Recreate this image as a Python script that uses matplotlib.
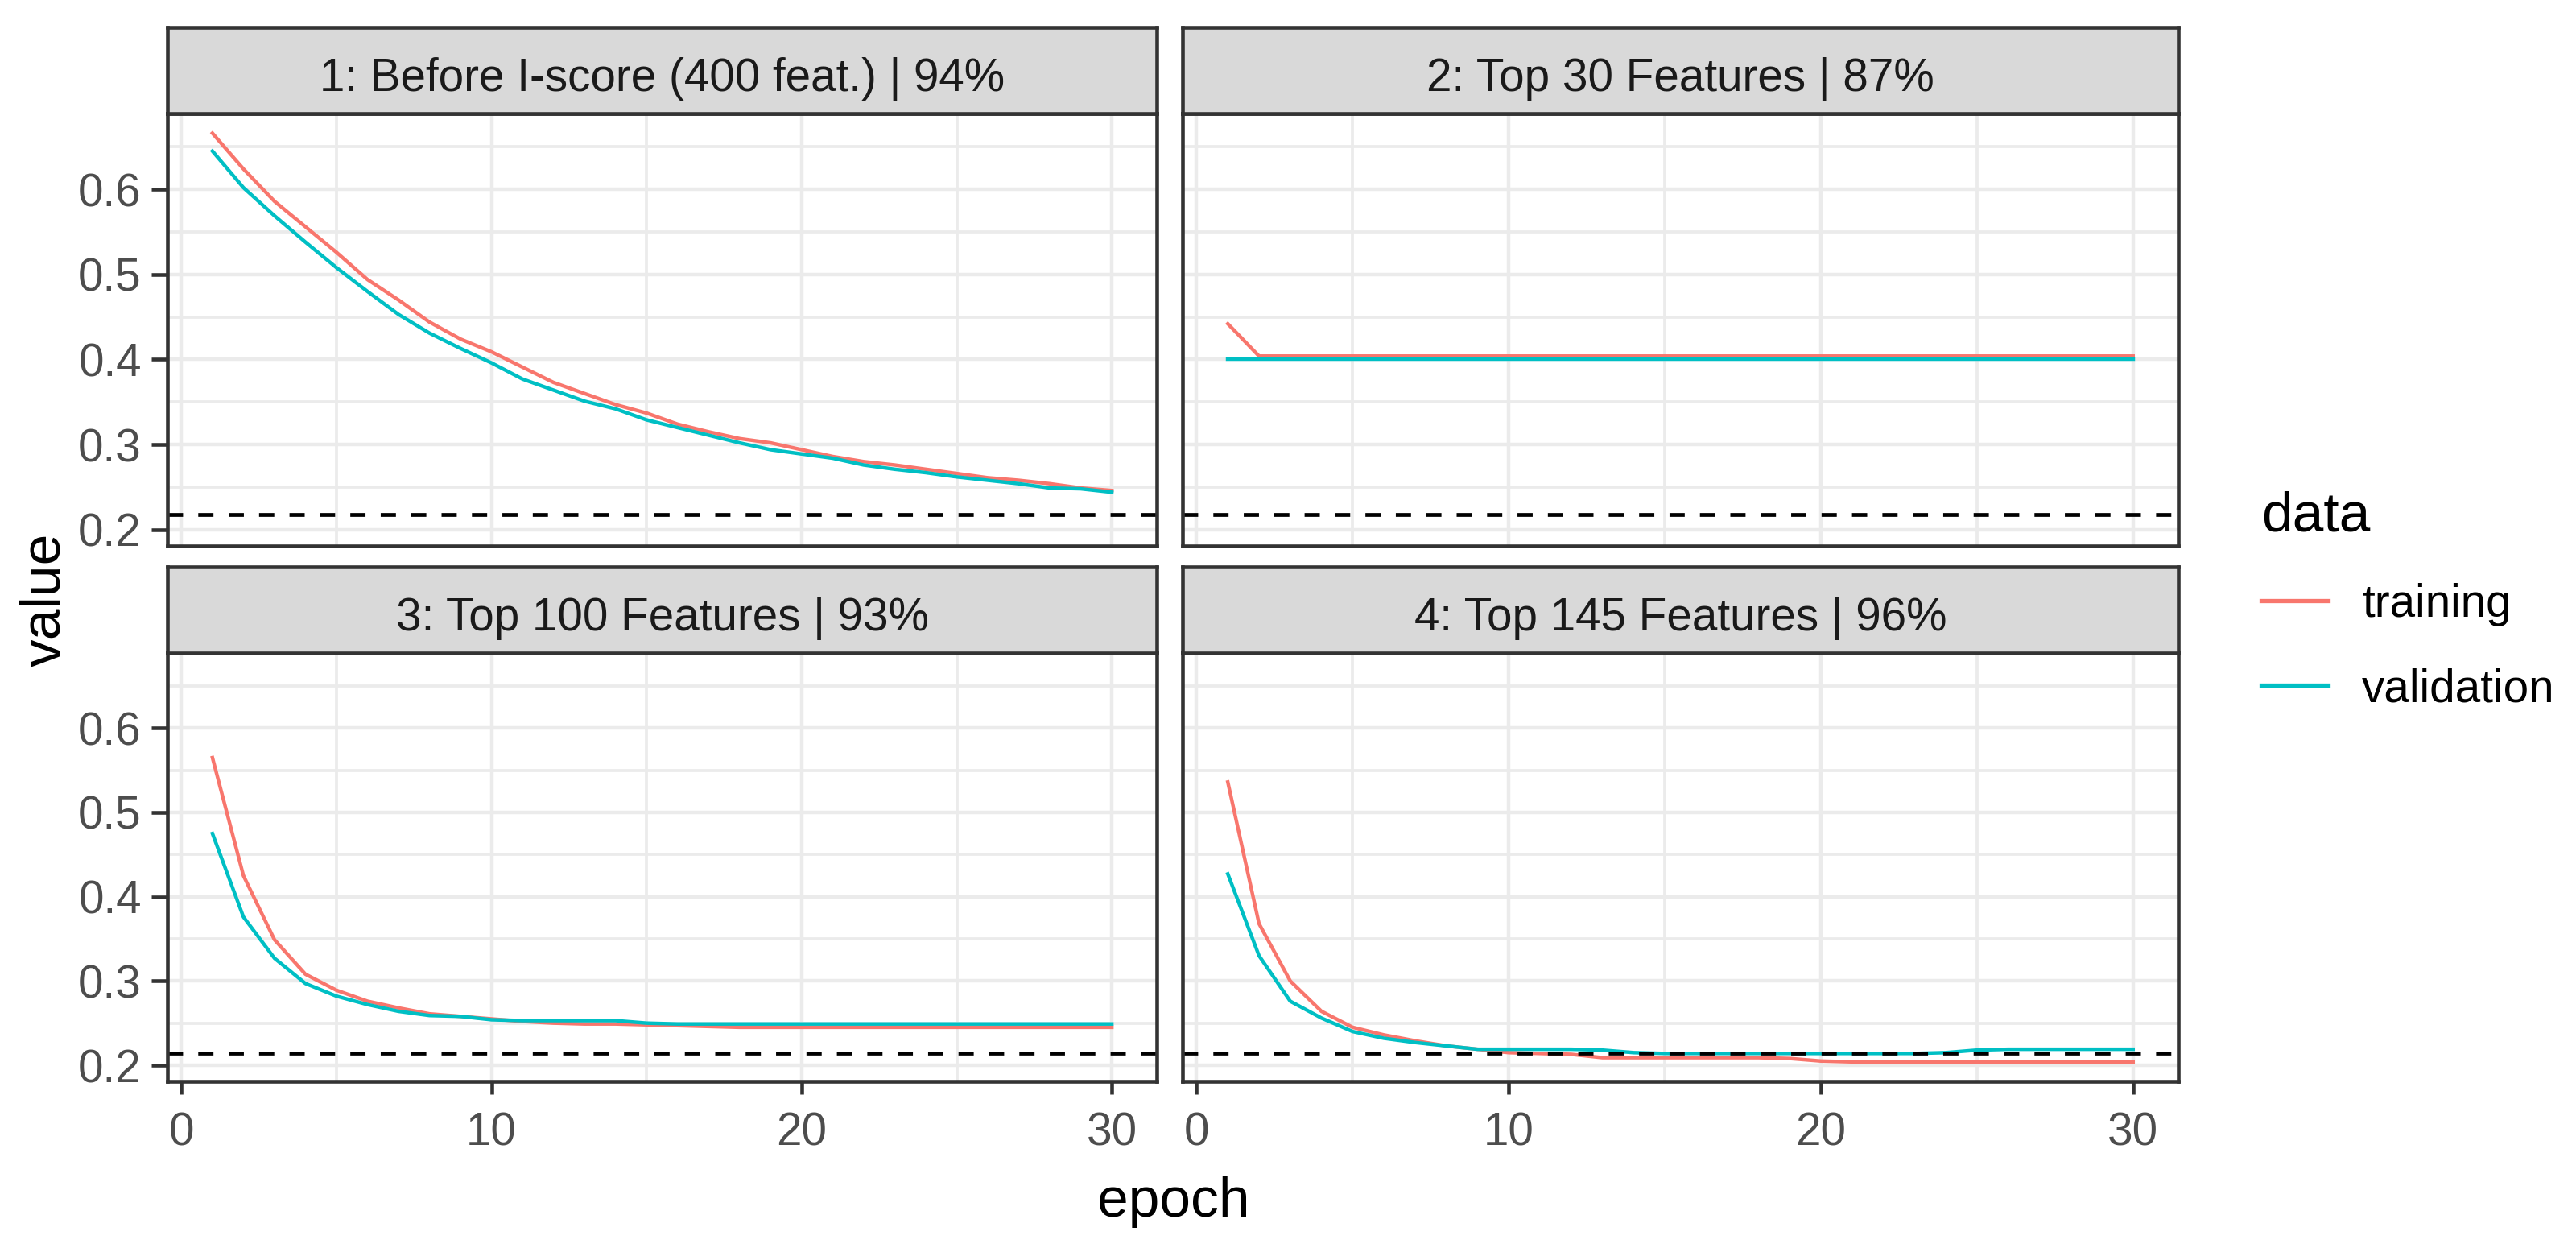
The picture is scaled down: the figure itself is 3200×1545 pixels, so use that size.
import matplotlib
matplotlib.use("Agg")
import matplotlib.pyplot as plt
import numpy as np

plt.rcParams['font.family'] = ['Liberation Sans', 'DejaVu Sans']

# ---------------- data ----------------
epochs = list(range(1, 31))

panel_titles = [
    "1: Before I-score (400 feat.) | 94%",
    "2: Top 30 Features | 87%",
    "3: Top 100 Features | 93%",
    "4: Top 145 Features | 96%",
]

train1 = [0.666, 0.624, 0.586, 0.556, 0.526, 0.494, 0.470, 0.444, 0.424, 0.409,
          0.391, 0.373, 0.360, 0.347, 0.337, 0.324, 0.315, 0.307, 0.302, 0.294,
          0.286, 0.280, 0.276, 0.271, 0.266, 0.261, 0.258, 0.254, 0.249, 0.246]
val1 = [0.645, 0.602, 0.569, 0.538, 0.508, 0.480, 0.453, 0.431, 0.413, 0.396,
        0.377, 0.364, 0.351, 0.342, 0.329, 0.320, 0.311, 0.302, 0.294, 0.289,
        0.284, 0.276, 0.271, 0.267, 0.262, 0.258, 0.254, 0.249, 0.248, 0.244]

train2 = [0.442, 0.404, 0.404, 0.404, 0.404, 0.404, 0.404, 0.404, 0.404, 0.404,
          0.404, 0.404, 0.404, 0.404, 0.404, 0.404, 0.404, 0.404, 0.404, 0.404,
          0.404, 0.404, 0.404, 0.404, 0.404, 0.404, 0.404, 0.404, 0.404, 0.404]
val2 = [0.400, 0.400, 0.400, 0.400, 0.400, 0.400, 0.400, 0.400, 0.400, 0.400,
        0.400, 0.400, 0.400, 0.400, 0.400, 0.400, 0.400, 0.400, 0.400, 0.400,
        0.400, 0.400, 0.400, 0.400, 0.400, 0.400, 0.400, 0.400, 0.400, 0.400]

train3 = [0.565, 0.425, 0.349, 0.308, 0.289, 0.276, 0.268, 0.261, 0.258, 0.255,
          0.252, 0.250, 0.249, 0.249, 0.248, 0.247, 0.246, 0.245, 0.245, 0.245,
          0.245, 0.245, 0.245, 0.245, 0.245, 0.245, 0.245, 0.245, 0.245, 0.245]
val3 = [0.475, 0.376, 0.327, 0.297, 0.282, 0.272, 0.264, 0.259, 0.258, 0.254,
        0.253, 0.253, 0.253, 0.253, 0.250, 0.249, 0.249, 0.249, 0.249, 0.249,
        0.249, 0.249, 0.249, 0.249, 0.249, 0.249, 0.249, 0.249, 0.249, 0.249]

train4 = [0.536, 0.368, 0.300, 0.264, 0.245, 0.236, 0.229, 0.223, 0.219, 0.215,
          0.214, 0.213, 0.209, 0.209, 0.209, 0.209, 0.209, 0.209, 0.208, 0.205,
          0.204, 0.204, 0.204, 0.204, 0.204, 0.204, 0.204, 0.204, 0.204, 0.204]
val4 = [0.427, 0.330, 0.276, 0.256, 0.240, 0.232, 0.227, 0.223, 0.219, 0.219,
        0.219, 0.219, 0.218, 0.215, 0.214, 0.214, 0.214, 0.214, 0.214, 0.214,
        0.214, 0.214, 0.214, 0.215, 0.218, 0.219, 0.219, 0.219, 0.219, 0.219]

ref_lines = [0.218, 0.218, 0.214, 0.214]

series_labels = ["training", "validation"]
series_colors = ["#F8766D", "#00BFC4"]

x_major = [0, 10, 20, 30]
x_minor = [5, 15, 25]
y_major = [0.2, 0.3, 0.4, 0.5, 0.6]
y_minor = [0.25, 0.35, 0.45, 0.55, 0.65]
y_labels = ["0.2", "0.3", "0.4", "0.5", "0.6"]
x_labels = ["0", "10", "20", "30"]

train_sets = [train1, train2, train3, train4]
val_sets = [val1, val2, val3, val4]

# ---------------- layout ----------------
W, H = 3200, 1545
DPI = 200
fig = plt.figure(figsize=(W / DPI, H / DPI), dpi=DPI)
fig.patch.set_facecolor("white")

SMALL = 20.4
BIG = 25


def px_rect(x0, y0, x1, y1):
    return [x0 / W, 1 - y1 / H, (x1 - x0) / W, (y1 - y0) / H]


cols = [(208, 1437), (1469, 2706)]
rows = [(141, 678), (811, 1343)]
strip_h = 107

all_vals = train1 + val1 + train2 + val2 + train3 + val3 + train4 + val4
lo, hi = min(all_vals), max(all_vals)
pad = 0.05 * (hi - lo)
ylim = (lo - pad, hi + pad)
xpad = 0.05 * (max(epochs) - min(epochs))
xlim = (min(epochs) - xpad, max(epochs) + xpad)

border_col = "#333333"
border_lw = 1.65
handles = None

for i in range(4):
    r, c = divmod(i, 2)
    x0, x1 = cols[c]
    y0, y1 = rows[r]
    ax = fig.add_axes(px_rect(x0, y0, x1, y1))
    ax.set_facecolor("white")
    ax.set_xlim(*xlim)
    ax.set_ylim(*ylim)
    ax.set_xticks(x_major)
    ax.set_xticks(x_minor, minor=True)
    ax.set_yticks(y_major)
    ax.set_yticks(y_minor, minor=True)
    ax.set_xticklabels(x_labels)
    ax.set_yticklabels(y_labels)
    ax.grid(True, which="major", color="#EBEBEB", lw=1.6)
    ax.grid(True, which="minor", color="#EBEBEB", lw=1.35)
    ax.set_axisbelow(True)
    ax.tick_params(which="major", width=border_lw, color=border_col,
                   labelsize=SMALL, labelcolor="#4D4D4D")
    ax.tick_params(axis="x", which="major", length=5.6, pad=8.0)
    ax.tick_params(axis="y", which="major", length=7.2, pad=4.4)
    ax.tick_params(which="minor", length=0)
    if r == 0:
        ax.tick_params(axis="x", which="both", bottom=False, labelbottom=False)
    if c == 1:
        ax.tick_params(axis="y", which="both", left=False, labelleft=False)
    for s in ax.spines.values():
        s.set_color(border_col)
        s.set_linewidth(border_lw)
        s.set_zorder(5)

    l1, = ax.plot(epochs, train_sets[i], color=series_colors[0], lw=1.6,
                  label=series_labels[0], zorder=2)
    l2, = ax.plot(epochs, val_sets[i], color=series_colors[1], lw=1.6,
                  label=series_labels[1], zorder=2.1)
    ax.axhline(ref_lines[i], color="black", lw=1.7, linestyle=(0, (4, 4)), zorder=3)
    if handles is None:
        handles = [l1, l2]

    # facet strip
    sax = fig.add_axes(px_rect(x0, y0 - strip_h, x1, y0))
    sax.set_facecolor("#D9D9D9")
    sax.set_xticks([])
    sax.set_yticks([])
    for s in sax.spines.values():
        s.set_color(border_col)
        s.set_linewidth(border_lw)
    sax.text(0.5, 0.265, panel_titles[i], transform=sax.transAxes, ha="center",
             va="baseline", fontsize=SMALL, color="#1A1A1A")

# axis titles
fig.text(56 / W, 1 - 745 / H, "value", rotation=90, fontsize=BIG,
         ha="center", va="center", color="black")
fig.text(1458 / W, 1 - 1493 / H, "epoch", fontsize=BIG,
         ha="center", va="center", color="black")

# legend (positioned by measuring after a draw)
fs_px = SMALL * DPI / 72.0
ls = 0.75
anchor = [2809 / W, 1 - 590 / H]
target_text_bottom = H - (766 + 0.212 * fs_px)
target_key_left = 2809
leg = None
for it in range(3):
    if leg is not None:
        leg.remove()
    leg = fig.legend(handles, series_labels, title="data", loc="upper left",
                     bbox_to_anchor=tuple(anchor), frameon=False,
                     fontsize=SMALL, title_fontsize=BIG, handlelength=1.46,
                     handletextpad=0.74, labelspacing=ls, borderpad=0,
                     borderaxespad=0, alignment="left")
    for lh in leg.get_lines():
        lh.set_linewidth(1.9)
    fig.canvas.draw()
    tb = [t.get_window_extent() for t in leg.get_texts()]
    pitch = tb[0].y0 - tb[1].y0
    ls += (105.0 - pitch) / fs_px
    anchor[1] += (target_text_bottom - tb[0].y0) / H
    lk = leg.get_lines()[0]
    xy = lk.get_transform().transform(
        np.column_stack([lk.get_xdata(), lk.get_ydata()]))
    anchor[0] += (target_key_left - xy[:, 0].min()) / W

fig.savefig("out.png", dpi=DPI, facecolor="white")
